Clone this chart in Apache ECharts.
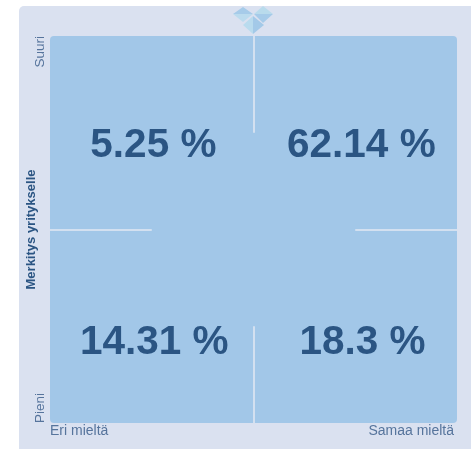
<!DOCTYPE html>
<html>
<head>
    <meta charset="utf-8">
    <style>html,body{margin:0;padding:0;background:#fff}</style>
    <script src="https://cdn.jsdelivr.net/npm/echarts@6/dist/echarts.min.js"></script>
</head>
<body>
    <div id="main" style="width:471px;height:449px"></div>
    <script type="text/javascript">
        // quadrants: top left, top right, bottom left, bottom right
        var shares = [5.25, 62.14, 14.31, 18.3];
        var posX = [25.4, 76.5, 25.6, 76.8];
        var posY = [71.7, 71.7, 20.6, 20.6];
        var xLabels = ['Eri mieltä', 'Samaa mieltä'];
        var yLabels = ['Pieni', 'Suuri'];
        var yName = 'Merkitys yritykselle';

        var points = [];
        for (var i = 0; i < shares.length; i++) {
            points.push({ value: [posX[i], posY[i]], share: shares[i] });
        }

        // logo pieces above the plot
        var logo = [
            { fill: '#a6cbe9', points: [[233, 14], [243, 7], [253, 14]] },
            { fill: '#bbdbee', points: [[233, 14], [253, 14], [243, 22]] },
            { fill: '#b9dbec', points: [[254, 14], [263, 6], [273, 14]] },
            { fill: '#a6cbe9', points: [[254, 14], [273, 14], [263, 23]] },
            { fill: '#b9dbee', points: [[243, 25], [253, 16], [253, 34]] },
            { fill: '#a3c9e8', points: [[253, 16], [264, 25], [253, 34]] }
        ];

        var graphics = [
            { type: 'rect', z: -10, shape: { x: 19, y: 6, width: 460, height: 450, r: 5 }, style: { fill: '#dae1f0' } },
            { type: 'rect', z: -9, shape: { x: 50, y: 36, width: 407, height: 387, r: 4 }, style: { fill: '#a2c7e8' } }
        ];
        logo.forEach(function (p) {
            graphics.push({ type: 'polygon', z: -8, shape: { points: p.points }, style: { fill: p.fill } });
        });

        var myChart = echarts.init(document.getElementById('main'), null, { renderer: 'canvas' });
        var option = {
            animation: false,
            backgroundColor: '#ffffff',
            grid: { left: 50, right: 14, top: 36, bottom: 26, show: false, outerBoundsMode: 'none' },
            graphic: graphics,
            xAxis: {
                type: 'value', min: 0, max: 100, interval: 100,
                splitLine: { show: false }, axisLine: { show: false }, axisTick: { show: false },
                axisLabel: {
                    color: '#56749c',
                    fontSize: 14,
                    fontFamily: 'Liberation Sans',
                    margin: 1,
                    padding: [0, 3, 0, 0],
                    alignMinLabel: 'left',
                    alignMaxLabel: 'right',
                    formatter: function (v) { return xLabels[v / 100]; }
                }
            },
            yAxis: {
                type: 'value', min: 0, max: 100, interval: 100,
                splitLine: { show: false }, axisLine: { show: false }, axisTick: { show: false },
                name: yName,
                nameLocation: 'middle',
                nameRotate: 90,
                nameGap: 12,
                nameMoveOverlap: false,
                nameTextStyle: { color: '#2b5583', fontSize: 13, fontWeight: 'bold', fontFamily: 'Liberation Sans' },
                axisLabel: {
                    color: '#56749c',
                    fontSize: 13.5,
                    fontFamily: 'Liberation Sans',
                    rotate: 90,
                    margin: 3,
                    alignMinLabel: 'left',
                    alignMaxLabel: 'right',
                    formatter: function (v) { return yLabels[v / 100]; }
                }
            },
            series: [{
                type: 'scatter',
                symbolSize: 0,
                itemStyle: { opacity: 1 },
                data: points,
                label: {
                    show: true,
                    position: 'inside',
                    color: '#2b5583',
                    opacity: 1,
                    fontSize: 40.5,
                    fontWeight: 'bold',
                    fontFamily: 'Liberation Sans',
                    formatter: function (p) { return p.data.share + ' %'; }
                },
                markLine: {
                    silent: true,
                    symbol: 'none',
                    label: { show: false },
                    lineStyle: { color: '#d3e0f0', width: 2, type: 'solid', opacity: 1 },
                    data: [
                        [{ coord: [50, 100] }, { coord: [50, 75] }],
                        [{ coord: [50, 25] }, { coord: [50, 0] }],
                        [{ coord: [0, 50] }, { coord: [25, 50] }],
                        [{ coord: [75, 50] }, { coord: [100, 50] }]
                    ]
                }
            }]
        };
        myChart.setOption(option);
    </script>
</body>
</html>
